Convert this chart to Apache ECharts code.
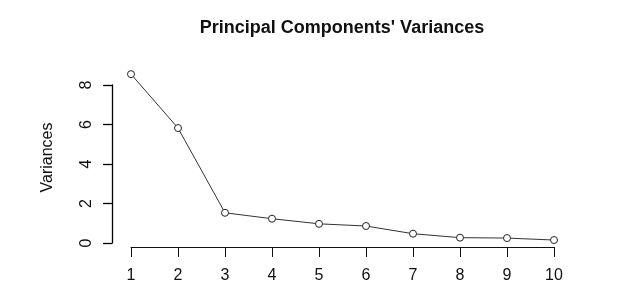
<!DOCTYPE html>
<html>
<head>
<meta charset="utf-8">
<script src="https://cdn.jsdelivr.net/npm/echarts@6/dist/echarts.min.js"></script>
<style>
html,body{margin:0;padding:0;background:#fff;}
#c{width:631px;height:298px;}
</style>
</head>
<body>
<div id="c"></div>
<script>
var components = [1, 2, 3, 4, 5, 6, 7, 8, 9, 10];
var variances = [8.55, 5.82, 1.53, 1.23, 0.97, 0.86, 0.47, 0.27, 0.25, 0.15];
var yTicks = [0, 2, 4, 6, 8];
var titleText = "Principal Components' Variances";
var yName = "Variances";

var FONT = 'Liberation Sans, Arial, sans-serif';
var chart = echarts.init(document.getElementById('c'), null, {renderer: 'canvas'});
var pts = components.map(function (c, i) { return [c, variances[i]]; });
chart.setOption({
  animation: false,
  backgroundColor: '#fff',
  title: {
    text: titleText,
    left: 342,
    top: 19,
    padding: 0,
    textAlign: 'center',
    textStyle: {fontFamily: FONT, fontWeight: 'bold', fontSize: 18, color: '#111'}
  },
  grid: {left: 131, right: 77, top: 85, bottom: 55, containLabel: false},
  xAxis: {
    type: 'value', min: 1, max: 10, interval: 1, offset: 4,
    axisLine: {show: true, onZero: false, lineStyle: {color: '#111', width: 1}},
    axisTick: {show: true, length: 10, lineStyle: {color: '#111', width: 1}},
    axisLabel: {margin: 21, fontSize: 16, color: '#111', fontFamily: FONT},
    splitLine: {show: false}
  },
  yAxis: {
    type: 'value', position: 'left', min: yTicks[0], max: yTicks[yTicks.length - 1], interval: 2, offset: 19,
    name: yName, nameLocation: 'middle', nameRotate: 90, nameGap: 56,
    nameTextStyle: {fontSize: 16, color: '#111', fontFamily: FONT, padding: [0, 0, 0, 13]},
    axisLine: {show: true, onZero: false, lineStyle: {color: '#000', width: 1.3}},
    axisTick: {show: true, inside: false, length: 9, lineStyle: {color: '#000', width: 1.3}},
    axisLabel: {rotate: 90, margin: 17, fontSize: 16, color: '#111', fontFamily: FONT},
    splitLine: {show: false}
  },
  series: [{
    type: 'line',
    data: pts,
    clip: false,
    symbol: 'circle',
    symbolSize: 7,
    showAllSymbol: true,
    lineStyle: {color: '#333', width: 1},
    itemStyle: {color: '#fff', borderColor: '#222', borderWidth: 1},
    emphasis: {disabled: true}
  }]
});
</script>
</body>
</html>
